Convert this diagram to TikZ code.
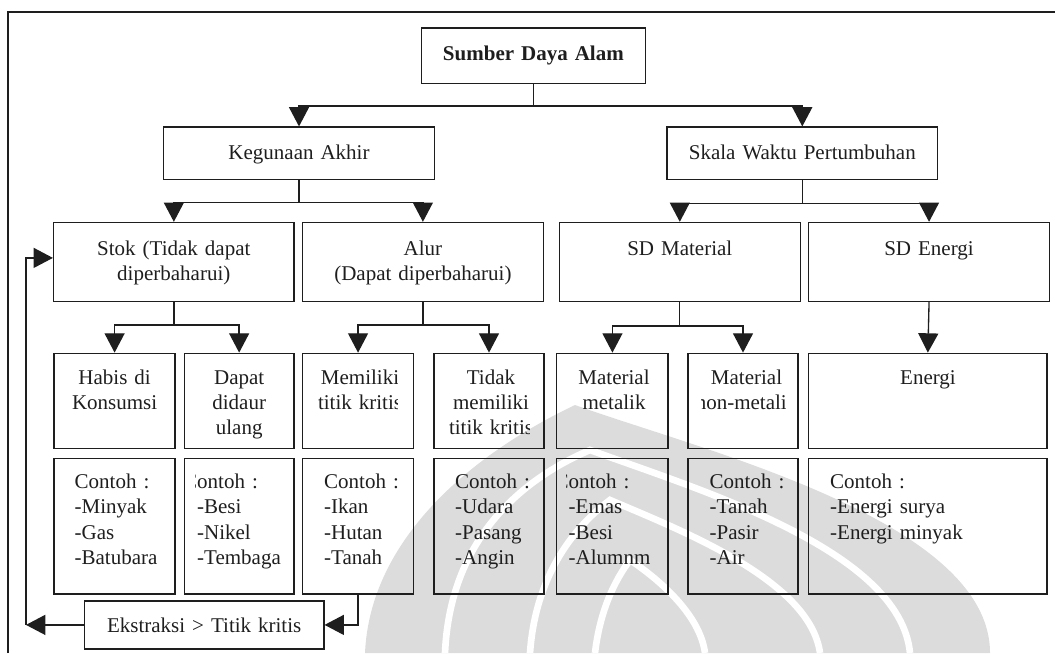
\documentclass[tikz,border=0pt]{standalone}
\usepackage{fontspec}
\setmainfont{Liberation Serif}
\usetikzlibrary{arrows.meta,fit}
\definecolor{ink}{HTML}{1E1E1E}
\definecolor{logo}{HTML}{DCDCDC}

\begin{document}
\begin{tikzpicture}[x=0.75pt,y=-0.75pt,font={\fontsize{15.75}{18.9}\selectfont},
    color=ink,line width=1pt,>={Triangle[length=14.5pt,width=15pt]},
    blok/.style={draw,inner sep=0pt},
    teks/.style={anchor=base,align=center,inner sep=0pt,text width=180pt},
    daftar/.style={anchor=base west,align=left,inner sep=0pt,text width=150pt}]
  \useasboundingbox (0,0) rectangle (1055,653);

  % Faint watermark behind the chart.
  \fill[fill=logo] (365,653) .. controls (370,540) and (470,455) .. (575,405)
    .. controls (700,450) and (990,520) .. (990,653) -- cycle;
  \draw[white,line width=5pt] (445,653) .. controls (450,540) and (520,480) .. (590,450)
    .. controls (700,490) and (900,550) .. (910,653);
  \draw[white,line width=5pt] (530,653) .. controls (535,580) and (570,530) .. (610,500)
    .. controls (680,530) and (810,580) .. (820,653);
  \draw[white,line width=5pt] (595,653) .. controls (600,610) and (615,580) .. (630,560)
    .. controls (660,580) and (700,615) .. (705,653);

  % Page frame.
  \draw (8,653) -- (8,12) -- (1055,12);

  % Top levels.
  \node[blok,fit={(421.6,28.1)(645.2,83.2)}] (sda) {};
  \node[teks] (sda-t) at (533.4,60) {\textbf{Sumber Daya Alam}};
  \node[blok,fit={(163.6,127.1)(434.4,179.5)}] (keg) {};
  \node[teks] (keg-t) at (299,159) {Kegunaan Akhir};
  \node[blok,fit={(667,127.1)(937.6,179.5)}] (skala) {};
  \node[teks] (skala-t) at (802.3,159.5) {Skala Waktu Pertumbuhan};

  % Third row.
  \node[blok,fit={(53.6,222.5)(294.1,301.3)}] (stok) {};
  \node[teks] (stok-t) at (173.8,255) {Stok (Tidak dapat\\diperbaharui)};
  \node[blok,fit={(302.6,222.5)(543.2,301.3)}] (alur) {};
  \node[teks] (alur-t) at (422.9,255) {Alur\\(Dapat diperbaharui)};
  \node[blok,fit={(559.2,222.5)(800.4,301.3)}] (sdmat) {};
  \node[teks] (sdmat-t) at (679.8,255) {SD Material};
  \node[blok,fit={(808.6,222.5)(1049.5,301.3)}] (sden) {};
  \node[teks] (sden-t) at (929,255) {SD Energi};

  % Fourth row.
  \node[blok,fit={(54.1,353.3)(175.1,448.7)}] (habis) {};
  \node[teks] (habis-t) at (114.6,384) {Habis di\\Konsumsi};
  \node[blok,fit={(184.2,353.3)(294.1,448.7)}] (daur) {};
  \node[teks] (daur-t) at (239.2,384) {Dapat\\didaur\\ulang};
  \node[blok,fit={(302.6,353.3)(413.5,448.7)}] (kritis) {};
  \begin{scope}
    \clip (315.5,353.3) rectangle (397.5,448.7);
    \node[teks] (kritis-t) at (360,384) {Memiliki\\titik kritis};
  \end{scope}
  \node[blok,fit={(434.1,353.3)(543.9,448.7)}] (takkritis) {};
  \begin{scope}
    \clip (446.5,353.3) rectangle (529,448.7);
    \node[teks] (takkritis-t) at (491,384) {Tidak\\memiliki\\titik kritis};
  \end{scope}
  \node[blok,fit={(556.8,353.3)(668.1,448.7)}] (metalik) {};
  \node[teks] (metalik-t) at (614,384) {Material\\metalik};
  \node[blok,fit={(687.9,353.3)(798.1,448.7)}] (nonmet) {};
  \begin{scope}
    \clip (701.5,353.3) rectangle (785.4,448.7);
    \node[teks] (nonmet-t) at (746.5,384) {Material\\non-metalik};
  \end{scope}
  \node[blok,fit={(808.6,353.3)(1047.1,448.7)}] (energi) {};
  \node[teks] (energi-t) at (928,384) {Energi};

  % Examples row.
  \node[blok,fit={(54.1,458.2)(175.1,594.1)}] (habisc) {};
  \node[daftar] (habisc-t) at (74,488.6) {Contoh :\\-Minyak\\-Gas\\-Batubara};
  \node[blok,fit={(184.2,458.2)(294.1,594.1)}] (daurc) {};
  \begin{scope}
    \clip (195.5,458.2) rectangle (281.3,594.1);
    \node[daftar] (daurc-t) at (196.5,488.6) {\llap{C}ontoh :\\-Besi\\-Nikel\\-Tembaga};
  \end{scope}
  \node[blok,fit={(302.6,458.2)(413.5,594.1)}] (kritisc) {};
  \node[daftar] (kritisc-t) at (323.5,488.6) {Contoh :\\-Ikan\\-Hutan\\-Tanah};
  \node[blok,fit={(434.1,458.2)(543.9,594.1)}] (takkritisc) {};
  \node[daftar] (takkritisc-t) at (454.5,488.6) {Contoh :\\-Udara\\-Pasang\\-Angin};
  \node[blok,fit={(556.8,458.2)(668.1,594.1)}] (metalikc) {};
  \begin{scope}
    \clip (566.5,458.2) rectangle (655.6,594.1);
    \node[daftar] (metalikc-t) at (568,488.6) {\llap{C}ontoh :\\-Emas\\-Besi\\-Alumnm};
  \end{scope}
  \node[blok,fit={(687.9,458.2)(798.1,594.1)}] (nonmetc) {};
  \node[daftar] (nonmetc-t) at (709,488.6) {Contoh :\\-Tanah\\-Pasir\\-Air};
  \node[blok,fit={(808.6,458.2)(1047.1,594.1)}] (energic) {};
  \node[daftar] (energic-t) at (829.5,488.6) {Contoh :\\-Energi surya\\-Energi minyak};

  % Feedback box.
  \node[blok,fit={(84.5,600.9)(323.9,648.9)}] (eks) {};
  \node[teks] (eks-t) at (204.2,632) {Ekstraksi > Titik kritis};

  % Connectors.
  \path (sda.south) ++(0,22) coordinate (bus0);
  \draw (sda.south) -- (bus0);
  \draw[->] (bus0) -| (keg.north);
  \draw[->] (bus0) -| (skala.north);

  \path (keg.south) ++(0,22.5) coordinate (bus1);
  \draw (keg.south) -- (bus1);
  \draw[->] (bus1) -| (stok.north);
  \draw[->] (bus1) -| (alur.north);

  \path (skala.south) ++(0,23) coordinate (bus2);
  \draw (skala.south) -- (bus2);
  \draw[->] (bus2) -| (sdmat.north);
  \draw[->] (bus2) -| (sden.north);

  \path (stok.south) ++(0,23) coordinate (bus3);
  \draw (stok.south) -- (bus3);
  \draw[->] (bus3) -| (habis.north);
  \draw[->] (bus3) -| (daur.north);

  \path (alur.south) ++(0,23) coordinate (bus4);
  \draw (alur.south) -- (bus4);
  \draw[->] (bus4) -| (kritis.north);
  \draw[->] (bus4) -| (takkritis.north);

  \path (sdmat.south) ++(0,24) coordinate (bus5);
  \draw (sdmat.south) -- (bus5);
  \draw[->] (bus5) -| (metalik.north);
  \draw[->] (bus5) -| (nonmet.north);

  \draw[->] (sden.south) -- (energi.north);

  % Extraction loop back to stock.
  \coordinate (balik) at (26,624.9);
  \draw[->] (kritisc.south) |- (eks.east);
  \draw[->] (eks.west) -- (balik);
  \draw[->] (balik) |- ([yshift=3pt]stok.west);
\end{tikzpicture}
\end{document}
